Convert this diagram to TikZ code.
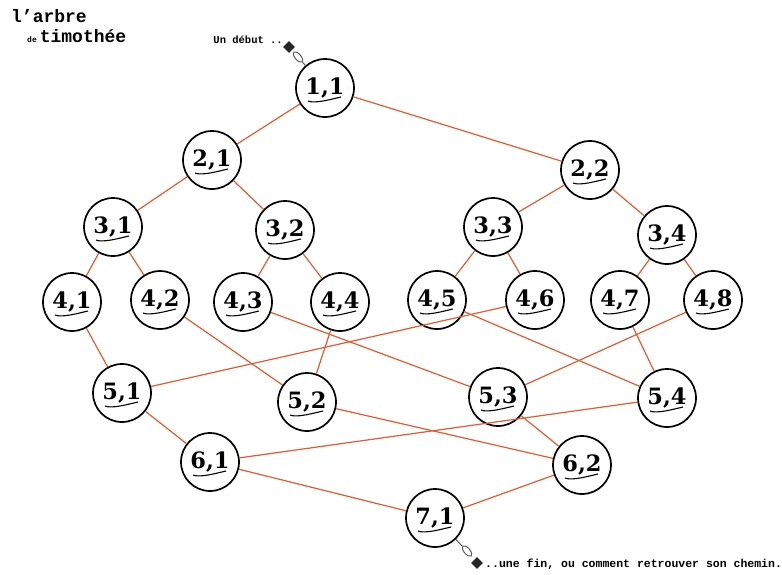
\documentclass[tikz,border=0pt]{standalone}
\usepackage{fontspec}
\setmainfont{DejaVu Serif}
\newfontfamily\typefont{Liberation Mono}
\usetikzlibrary{shapes.geometric}
\definecolor{branch}{RGB}{226,90,48}
\tikzset{
  spot/.style={circle, draw=black, line width=1.7pt, fill=white, minimum size=58pt, inner sep=0pt,
    font=\fontsize{22.5}{22.5}\selectfont\bfseries,
    path picture={\draw[line width=1.1pt] ([shift={(-17pt,-13pt)}]path picture bounding box.center)
      .. controls +(7pt,-3pt) and +(-9pt,-2pt) .. ([shift={(16pt,-9pt)}]path picture bounding box.center);}},
  branchline/.style={draw=branch, line width=1.2pt},
  tag/.style={diamond, fill=black!85, inner sep=0pt, minimum size=12pt},
  link/.style={ellipse, draw=black!65, line width=1pt, minimum width=13pt, minimum height=6pt, inner sep=0pt},
  caption/.style={font=\typefont\bfseries\fontsize{11.5}{11.5}\selectfont, inner sep=0pt}
}
\begin{document}
\begin{tikzpicture}[x=1pt,y=-1pt]
\useasboundingbox (0,0) rectangle (782,574);
\node[font=\typefont\bfseries\fontsize{18}{18}\selectfont, anchor=north west, inner sep=0pt] (title) at (11,9) {l’arbre};
\node[font=\typefont\bfseries\fontsize{18}{18}\selectfont, anchor=north west, inner sep=0pt] (name) at (27,29) {{\fontsize{8}{8}\selectfont de}\,timothée};
\foreach \a/\b/\x/\y in {1/1/325/88, 2/1/212/160, 2/2/590/170, 3/1/113/227, 3/2/285/230, 3/3/493/227, 3/4/667/235,
    4/1/72/302, 4/2/160/300, 4/3/243/302, 4/4/340/302, 4/5/437/300, 4/6/535/300, 4/7/620/300, 4/8/713/300,
    5/1/122/393, 5/2/307/402, 5/3/498/397, 5/4/667/398, 6/1/210/462, 6/2/582/465, 7/1/435/518} {
    \node[spot] (n\a\b) at (\x,\y) {\a,\b};
}
\foreach \u/\v in {11/21, 11/22, 21/31, 21/32, 22/33, 22/34, 31/41, 31/42, 32/43, 32/44, 33/45, 33/46, 34/47, 34/48,
    41/51, 46/51, 42/52, 44/52, 43/53, 48/53, 45/54, 47/54, 51/61, 54/61, 52/62, 53/62, 61/71, 62/71} {
    \draw[branchline] (n\u) -- (n\v);
}
\node[tag] (start) at (289,47) {};
\node[link, rotate=-50] (startlink) at (298,57) {};
\draw[black!65, line width=1pt] (startlink) -- (n11);
\node[caption, font=\typefont\bfseries\fontsize{10.5}{10.5}\selectfont, anchor=east] (debut) at (283,40) {Un début ..};
\node[tag] (finish) at (477,563) {};
\node[link, rotate=-50] (finishlink) at (467,551) {};
\draw[black!65, line width=1pt] (n71) -- (finishlink);
\node[caption, anchor=west] (fin) at (485,564) {..une fin, ou comment retrouver son chemin.};
\end{tikzpicture}
\end{document}
